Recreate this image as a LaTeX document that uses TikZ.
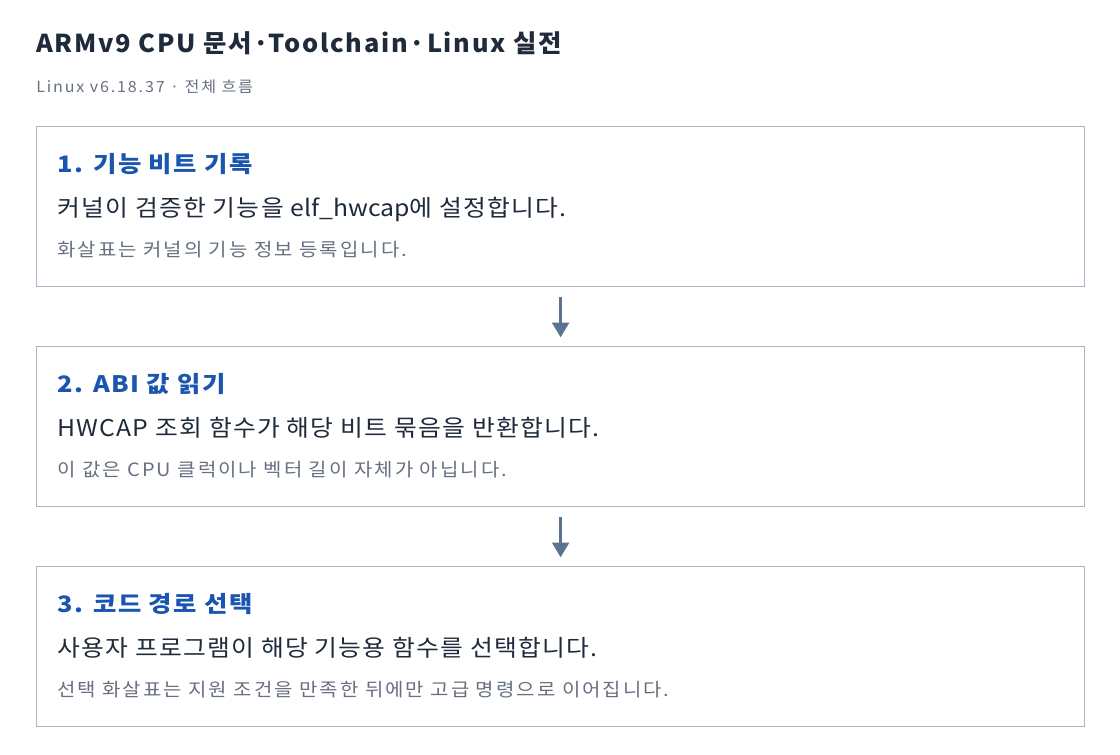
\documentclass[tikz,border=0pt]{standalone}
\usepackage{fontspec}
\setmainfont{Noto Sans CJK KR}
\usetikzlibrary{arrows.meta}
\definecolor{titlec}{HTML}{1F2A3A}
\definecolor{headc}{HTML}{1A55B0}
\definecolor{bodyc}{HTML}{1F2A3A}
\definecolor{notec}{HTML}{667080}
\definecolor{borderc}{HTML}{A8B5C5}
\definecolor{arrowc}{HTML}{5A7390}
\tikzset{
  stepbox/.style={draw=borderc, line width=0.9pt, fill=white, minimum width=786pt, minimum height=120pt, inner sep=0pt, anchor=north west},
  titletxt/.style={anchor=base west, inner sep=0pt, text=titlec, font=\fontsize{18.5pt}{22pt}\selectfont\bfseries\addfontfeature{LetterSpace=7,FakeStretch=1.03}},
  subtxt/.style={anchor=base west, inner sep=0pt, text=notec, font=\fontsize{11.5pt}{14pt}\selectfont\addfontfeature{LetterSpace=12,FakeStretch=1.05}},
  headtxt/.style={anchor=base west, inner sep=0pt, text=headc, font=\fontsize{17pt}{20pt}\selectfont\bfseries\addfontfeature{LetterSpace=7,FakeStretch=1.12}},
  bodytxt/.style={anchor=base west, inner sep=0pt, text=bodyc, font=\fontsize{17.3pt}{21pt}\selectfont\addfontfeature{LetterSpace=5.5,FakeStretch=1.075}},
  notetxt/.style={anchor=base west, inner sep=0pt, text=notec, font=\fontsize{13.8pt}{17pt}\selectfont\addfontfeature{LetterSpace=11,FakeStretch=1.085}},
  flowarrow/.style={draw=arrowc, line width=2pt, -{Triangle[width=12.5pt,length=11pt]}, shorten <=7.5pt, shorten >=6.5pt}
}
\begin{document}
\begin{tikzpicture}[x=0.75pt,y=-0.75pt]
\useasboundingbox (0,0) rectangle (1120,754);
\node[titletxt] (title) at (36,52) {ARMv9 CPU 문서·Toolchain·Linux 실전};
\node[subtxt] (sub) at (36,92) {Linux v6.18.37 · 전체 흐름};

\node[stepbox] (b1) at (36,126) {};
\node[stepbox] (b2) at (36,346) {};
\node[stepbox] (b3) at (36,566) {};

\node[headtxt] (h1) at (57,172) {1. 기능 비트 기록};
\node[bodytxt] (t1) at (57,216) {커널이 검증한 기능을 {\addfontfeature{LetterSpace=0}elf\_hwcap}에 설정합니다.};
\node[notetxt] (n1) at (57,256) {화살표는 커널의 기능 정보 등록입니다.};

\node[headtxt] (h2) at (57,392) {2. ABI 값 읽기};
\node[bodytxt] (t2) at (57,436) {HWCAP 조회 함수가 해당 비트 묶음을 반환합니다.};
\node[notetxt] (n2) at (57,476) {이 값은 CPU 클럭이나 벡터 길이 자체가 아닙니다.};

\node[headtxt] (h3) at (57,612) {3. 코드 경로 선택};
\node[bodytxt] (t3) at (57,656) {사용자 프로그램이 해당 기능용 함수를 선택합니다.};
\node[notetxt] (n3) at (57,696) {선택 화살표는 지원 조건을 만족한 뒤에만 고급 명령으로 이어집니다.};

\draw[flowarrow] (b1.south) -- (b2.north);
\draw[flowarrow] (b2.south) -- (b3.north);
\end{tikzpicture}
\end{document}
